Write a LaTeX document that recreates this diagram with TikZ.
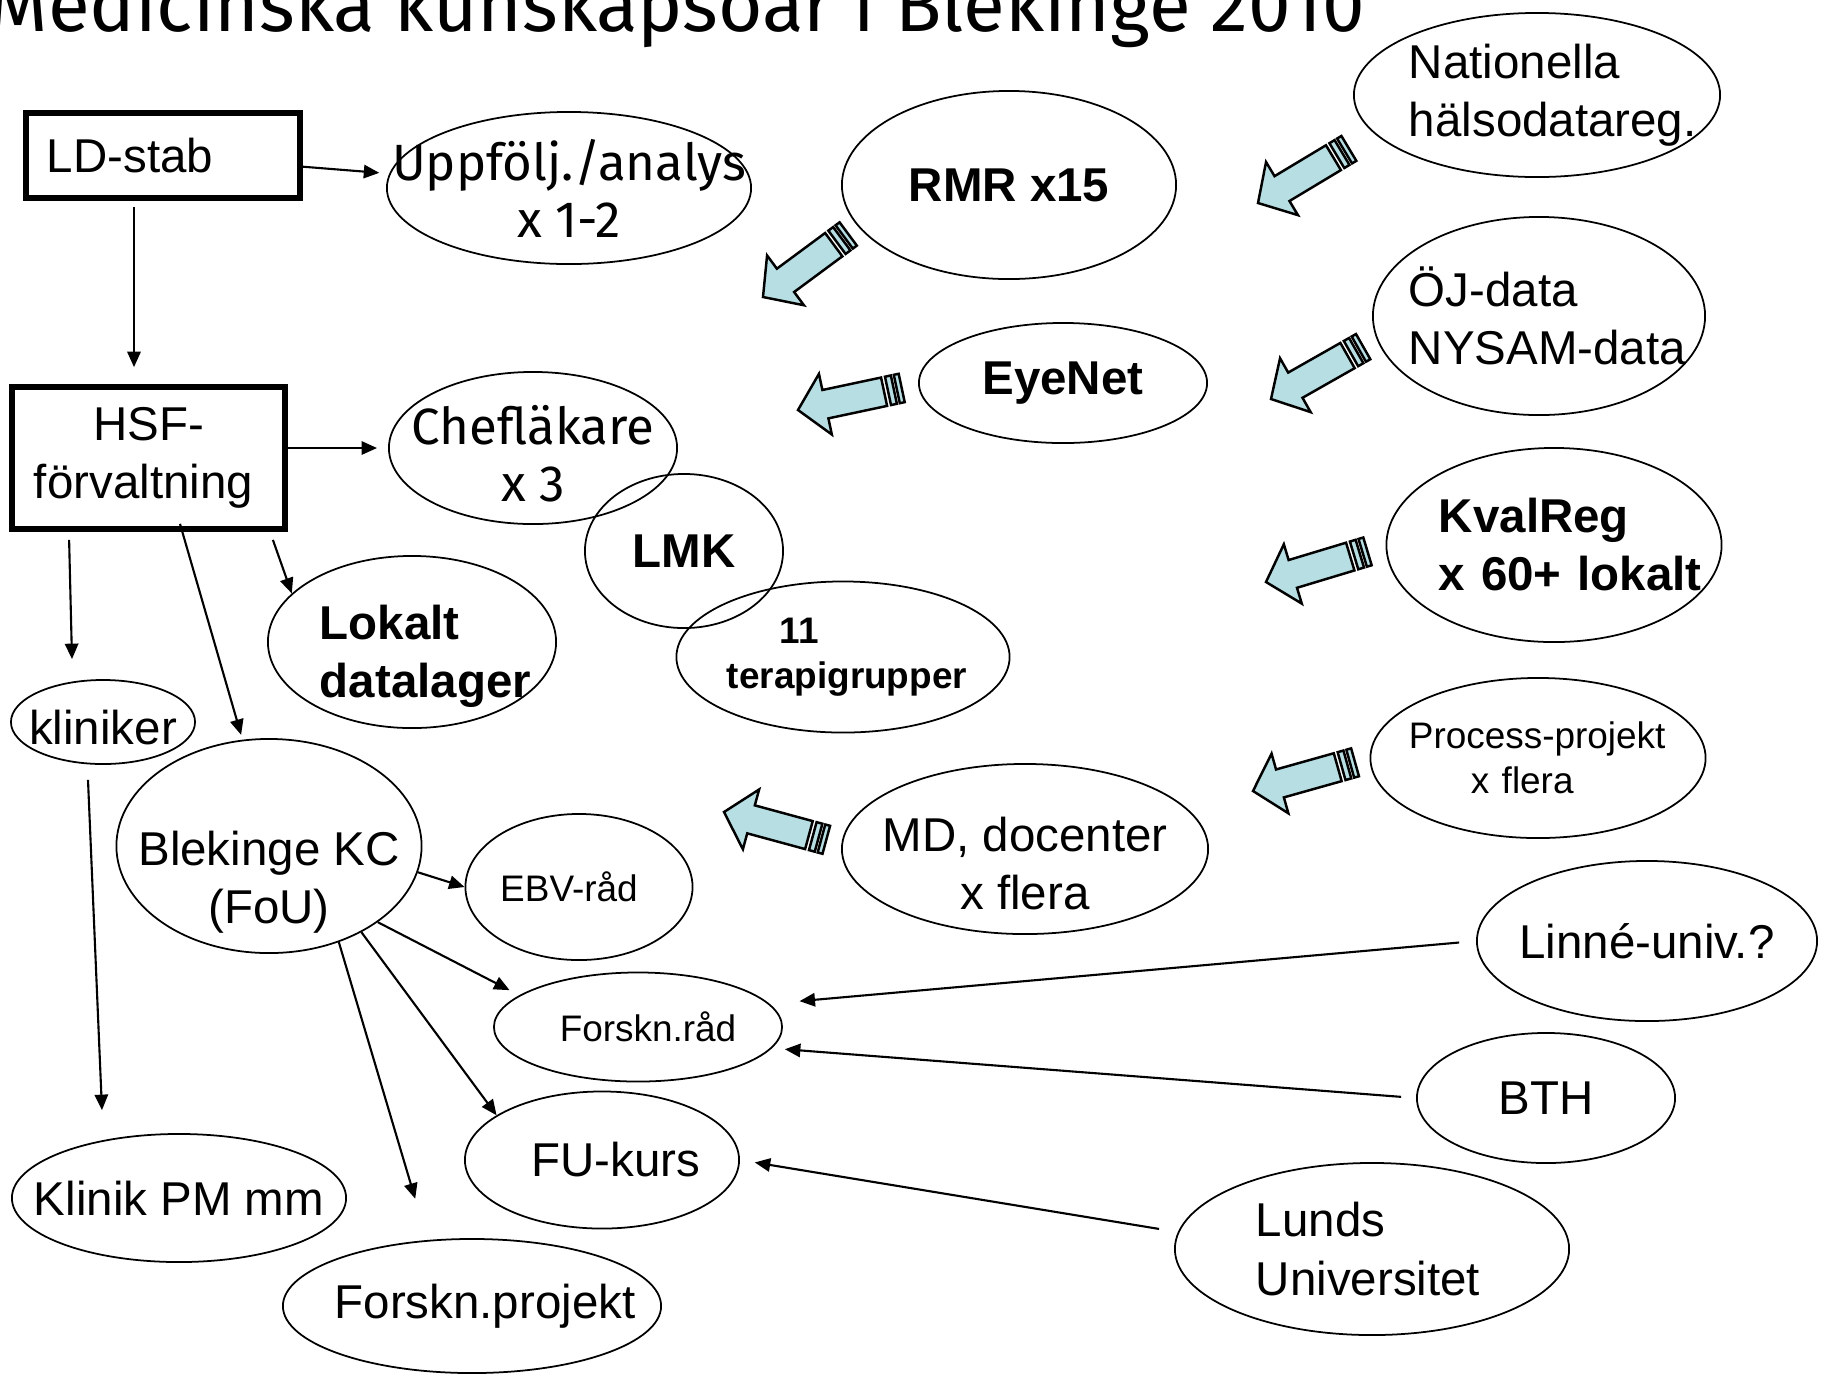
\documentclass[tikz,border=0pt]{standalone}
\usepackage{fontspec}
\setmainfont{Liberation Sans}
\newfontfamily\comicfont{Fira Sans}
\usetikzlibrary{arrows.meta,shapes.geometric,calc}
\definecolor{arrowblue}{HTML}{B7DEE3}

\tikzset{
  pics/stripearrow/.style={code={
    \draw[barrow] (0,0) -- (28,-31) -- (28,-14.5) -- (88,-14.5) -- (88,14.5) -- (28,14.5) -- (28,31) -- cycle;
    \draw[barrow] (92,-14.5) rectangle (98,14.5);
    \draw[barrow] (101,-14.5) rectangle (106,14.5);
  }}
}

\begin{document}
\begin{tikzpicture}[
    x=0.01cm, y=-0.01cm,
    >={Triangle[length=4.4pt,width=3.8pt]},
    font=\fontsize{13.5}{16.5}\selectfont,
    box/.style={draw, line width=1.6pt, inner sep=0pt, minimum width=2.74cm},
    oval/.style 2 args={draw, ellipse, line width=0.5pt, inner sep=-3cm, minimum width=#1, minimum height=#2},
    comictxt/.style={font=\comicfont\fontsize{14.5}{16.2}\selectfont, align=center},
    boldtxt/.style={font=\fontsize{13.5}{16.5}\selectfont\bfseries},
    smalltxt/.style={font=\fontsize{10.5}{12.9}\selectfont},
    conn/.style={->, line width=0.6pt},
    barrow/.style={draw, fill=arrowblue, line width=0.7pt, line join=miter}
  ]
  \useasboundingbox (0,0) rectangle (1824,1378);

  % --- Title (cut by the top edge) ---
  \node[font=\comicfont\fontsize{21.7}{26}\selectfont, anchor=base west, inner sep=0pt] (title) at (-12,31)
    {Medicinska kunskapsöar i Blekinge 2010};

  % --- Boxes ---
  \node[box, minimum height=0.85cm, text width=2.32cm, align=left] (ldstab) at (163,155.5) {LD-stab};
  \node[box, minimum width=2.73cm, minimum height=1.42cm, align=center] (hsf) at (148.5,458) {HSF-\\förvaltning\hspace*{0.1cm}};

  % --- Ellipses, left side ---
  \node[oval={3.64cm}{1.52cm}, comictxt] (uppf) at (569,188) {Uppfölj./analys\\x 1-2};
  \node[oval={2.88cm}{1.52cm}, comictxt] (chef) at (533,448) {\rule{0pt}{0.5cm}Chefläkare\\x 3};
  \node[oval={1.98cm}{1.54cm}, boldtxt] (lmk) at (684,551) {LMK};
  \node[oval={3.33cm}{1.51cm}, font=\fontsize{10.5}{12.9}\selectfont\bfseries, text width=2.32cm, align=left] (ter) at (843,657)
    {\hspace*{0.53cm}11\\terapigrupper};
  \node[oval={2.88cm}{1.72cm}, boldtxt, text width=1.84cm, align=left] (lok) at (412,642) {\rule{0pt}{0.63cm}Lokalt\\datalager};
  \node[oval={1.84cm}{0.84cm}] (klin) at (103,722) {\rule{0pt}{0.45cm}kliniker};
  \node[oval={3.05cm}{2.14cm}, align=center] (kc) at (269,846) {\rule{0pt}{1.07cm}Blekinge KC\\(FoU)};
  \node[oval={2.27cm}{1.46cm}, smalltxt] (ebv) at (579,887) {EBV-råd\hspace*{0.2cm}};
  \node[oval={2.88cm}{1.09cm}, smalltxt] (rad) at (638,1027) {\hspace*{0.2cm}Forskn.råd};
  \node[oval={2.74cm}{1.37cm}] (fu) at (602,1160) {\hspace*{0.28cm}FU-kurs};
  \node[oval={3.34cm}{1.28cm}] (klinpm) at (179,1198) {Klinik PM mm};
  \node[oval={3.78cm}{1.34cm}] (fproj) at (472,1306) {\hspace*{0.26cm}Forskn.projekt};

  % --- Ellipses, middle and right ---
  \node[oval={3.34cm}{1.88cm}, boldtxt] (rmr) at (1009,185) {RMR x15};
  \node[oval={2.88cm}{1.2cm}, boldtxt] (eye) at (1063,383) {EyeNet};
  \node[oval={3.66cm}{1.7cm}, align=center] (md) at (1025,849) {\rule{0pt}{0.63cm}MD, docenter\\x flera};
  \node[oval={3.66cm}{1.64cm}, text width=2.56cm, align=left] (nat) at (1537,95) {Nationella\\hälsodatareg.};
  \node[oval={3.32cm}{1.98cm}, text width=2.6cm, align=left] (oj) at (1539,316) {ÖJ-data\\\mbox{NYSAM-data}};
  \node[oval={3.35cm}{1.94cm}, boldtxt, text width=2.3cm, align=left] (kval) at (1554,545) {KvalReg\\\mbox{x 60+ lokalt}};
  \node[oval={3.35cm}{1.6cm}, smalltxt, text width=2.58cm, align=left] (proc) at (1538,758)
    {Process-projekt\\\hspace*{0.62cm}x flera};
  \node[oval={3.4cm}{1.6cm}] (linne) at (1647,941) {Linné-univ.?};
  \node[oval={2.58cm}{1.3cm}] (bth) at (1546,1098) {BTH};
  \node[oval={3.94cm}{1.72cm}, text width=2.32cm, align=left] (lunds) at (1372,1249) {Lunds\\Universitet};

  % --- Striped block arrows (tip, angle) ---
  \foreach \tip/\ang in {{(763,297)}/36.5, {(1258,203)}/31, {(798,410)}/12, {(1271,399)}/29.6,
                         {(1266,582)}/16.8, {(1253,791)}/15.7, {(724,812)}/-15.2}
    \pic[rotate=\ang] at \tip {stripearrow};

  % --- Arrows ---
  \draw[conn, shorten >=0.1cm] (ldstab) -- (uppf);
  \draw[conn] ($(ldstab.south)+(-29,6)$) -- ($(hsf.north)+(-14.5,-17)$);
  \draw[conn, shorten >=0.11cm] (hsf.east |- chef.west) -- (chef.west);
  \draw[conn] ($(hsf.south west)+(60,8)$) -- ($(klin.north)+(-31,-20)$);
  \draw[conn, shorten >=0.05cm] ($(hsf.south)+(31.5,-8)$) -- (kc.104);
  \draw[conn] ($(hsf.south east)+(-15,8)$) -- (lok.158);
  \draw[conn] ($(klin.south)+(-15,15)$) -- ($(klinpm.north)+(-77,-23)$);
  \draw[conn] (kc.-10) -- (ebv.west);
  \draw[conn, shorten >=0.11cm] (kc.-35) -- (rad.165);
  \draw[conn] (kc.-43) -- (fu.157);
  \draw[conn, shorten >=0.43cm] (kc.-54) -- (fproj.124);
  \draw[conn, shorten <=0.17cm, shorten >=0.3cm] (linne.west) -- (rad.10);
  \draw[conn, shorten <=0.15cm, shorten >=0.13cm] (bth.west) -- (rad.-9);
  \draw[conn, shorten <=0.19cm, shorten >=0.15cm] (lunds.175) -- (fu.east);

\end{tikzpicture}
\end{document}
